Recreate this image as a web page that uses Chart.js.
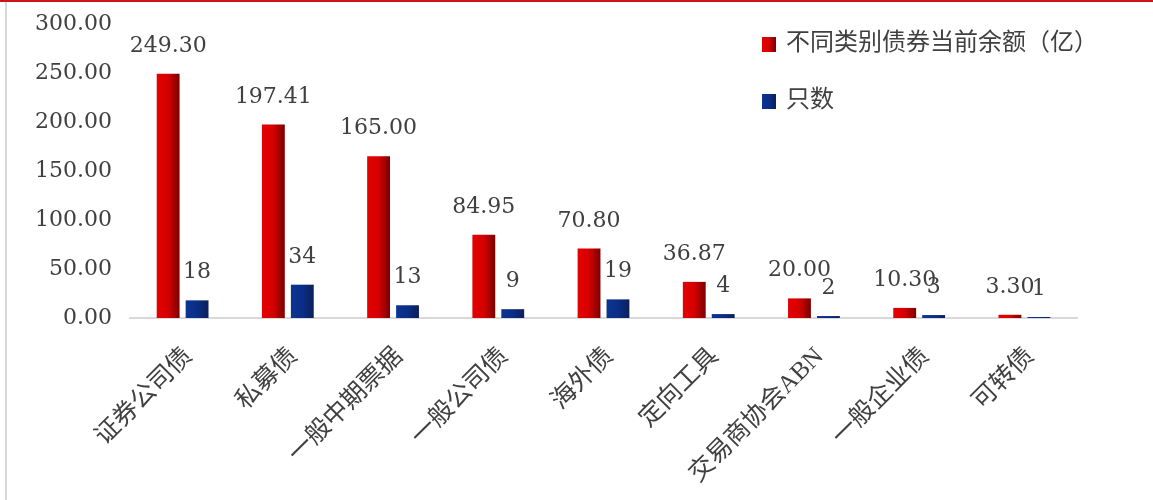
<!DOCTYPE html>
<html>
<head>
<meta charset="utf-8">
<script src="https://cdn.jsdelivr.net/npm/chart.js@4.4.0/dist/chart.umd.min.js"></script>
<style>
    html, body { margin: 0; padding: 0; background: #fff; }
    #wrap { position: relative; width: 1153px; height: 500px; overflow: hidden; }
    #barChart { position: absolute; left: 0; top: 0; }
    #topLine { position: absolute; left: 0; top: 0; width: 1153px; height: 2px; background: #c8151b; }
    #leftLine { position: absolute; left: 5px; top: 2px; width: 2px; height: 498px; background: #d8d8d8; }
</style>
</head>
<body>
<div id="wrap">
    <canvas id="barChart" width="1153" height="500"></canvas>
    <div id="topLine"></div>
    <div id="leftLine"></div>
</div>
<script>
    // chart data
    var categories = ['证券公司债', '私募债', '一般中期票据', '一般公司债', '海外债', '定向工具', '交易商协会ABN', '一般企业债', '可转债'];
    var balanceData = [249.30, 197.41, 165.00, 84.95, 70.80, 36.87, 20.00, 10.30, 3.30];
    var countData = [18, 34, 13, 9, 19, 4, 2, 3, 1];
    var seriesNames = ['不同类别债券当前余额（亿）', '只数'];
    var yTicks = [0, 50, 100, 150, 200, 250, 300];

    var textColor = '#404040';
    var numFont = "'DejaVu Serif', serif";
    var cjkFont = "'Liberation Serif', 'Noto Sans CJK SC', serif";

    var redShade = [[0, '#e60000'], [0.5, '#d40000'], [1, '#7a0000']];
    var blueShade = [[0, '#0b3494'], [0.5, '#0a2e86'], [1, '#0c1f58']];

    function makeGradient(ctx, x0, x1, stops) {
        var g = ctx.createLinearGradient(x0, 0, x1, 0);
        stops.forEach(function (s) { g.addColorStop(s[0], s[1]); });
        return g;
    }

    // horizontal shading on each bar
    var barShade = {
        id: 'barShade',
        beforeDatasetsDraw: function (chart) {
            var ctx = chart.ctx;
            chart.data.datasets.forEach(function (ds, i) {
                chart.getDatasetMeta(i).data.forEach(function (bar) {
                    bar.options.backgroundColor = makeGradient(ctx, bar.x - bar.width / 2, bar.x + bar.width / 2, ds.shade);
                });
            });
        }
    };

    // value labels above the bars
    var barLabels = {
        id: 'barLabels',
        afterDatasetsDraw: function (chart) {
            var ctx = chart.ctx;
            ctx.save();
            ctx.font = '22px ' + numFont;
            ctx.fillStyle = textColor;
            ctx.textAlign = 'center';
            ctx.textBaseline = 'alphabetic';
            chart.data.datasets.forEach(function (ds, i) {
                chart.getDatasetMeta(i).data.forEach(function (bar, j) {
                    var v = ds.data[j];
                    var txt = ds.decimals ? v.toFixed(ds.decimals) : String(v);
                    ctx.fillText(txt, bar.x, bar.y - 22);
                });
            });
            ctx.restore();
        }
    };

    // legend stacked in the upper right
    var sideLegend = {
        id: 'sideLegend',
        afterDraw: function (chart) {
            var ctx = chart.ctx;
            ctx.save();
            ctx.font = '24px ' + cjkFont;
            ctx.fillStyle = textColor;
            ctx.textBaseline = 'middle';
            chart.data.datasets.forEach(function (ds, i) {
                var y = 44 + i * 57;
                ctx.fillStyle = makeGradient(ctx, 762, 776, ds.shade);
                ctx.fillRect(762, y - 7, 14, 15);
                ctx.fillStyle = textColor;
                ctx.fillText(ds.label, 786, y);
            });
            ctx.restore();
        }
    };

    var barChartCtx = document.getElementById('barChart');

    new Chart(barChartCtx, {
        type: 'bar',
        data: {
            labels: categories,
            datasets: [{
                label: seriesNames[0],
                data: balanceData,
                shade: redShade,
                decimals: 2,
                backgroundColor: function () { return '#d40000'; },
                categoryPercentage: 0.55,
                barPercentage: 0.79
            }, {
                label: seriesNames[1],
                data: countData,
                shade: blueShade,
                decimals: 0,
                backgroundColor: function () { return '#0a2e86'; },
                categoryPercentage: 0.55,
                barPercentage: 0.79
            }]
        },
        options: {
            responsive: false,
            animation: false,
            layout: {
                padding: { top: 24, right: 76, left: 0, bottom: 0 }
            },
            plugins: {
                legend: { display: false },
                tooltip: { enabled: false }
            },
            scales: {
                x: {
                    grid: { display: false, drawTicks: false },
                    border: { display: true, color: '#d9d9d9', width: 2 },
                    ticks: {
                        color: textColor,
                        font: { family: cjkFont, size: 25 },
                        minRotation: 45,
                        maxRotation: 45,
                        autoSkip: false,
                        padding: 24,
                        labelOffset: 6
                    },
                    afterFit: function (scale) { scale.height = 182; }
                },
                y: {
                    min: yTicks[0],
                    max: yTicks[yTicks.length - 1],
                    grid: { display: false, drawTicks: false },
                    border: { display: false },
                    ticks: {
                        stepSize: 50,
                        padding: 18,
                        color: textColor,
                        font: { family: numFont, size: 22 },
                        callback: function (v) { return v.toFixed(2); }
                    },
                    afterFit: function (scale) {
                        scale.width = 130;
                        scale.paddingTop = 0;
                        scale.paddingBottom = 0;
                    }
                }
            }
        },
        plugins: [barShade, barLabels, sideLegend]
    });
</script>
</body>
</html>
